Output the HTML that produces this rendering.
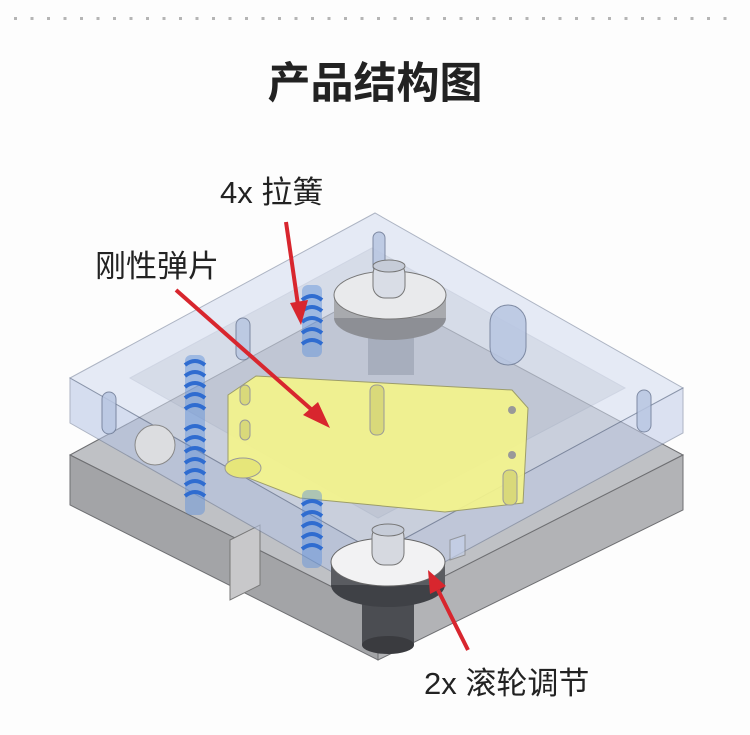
<!DOCTYPE html>
<html><head><meta charset="utf-8"><style>
html,body{margin:0;padding:0;background:#fdfdfd;}
body{width:750px;height:730px;overflow:hidden;position:relative;font-family:"Liberation Sans","Noto Sans CJK SC",sans-serif;}
</style></head><body>
<svg width="750" height="730" viewBox="0 0 750 730" xmlns="http://www.w3.org/2000/svg">
<defs>
<pattern id="dots" x="14" y="17" width="16.5" height="4" patternUnits="userSpaceOnUse"><rect width="3" height="3" fill="#b5b5b5"/></pattern>
</defs>
<rect x="12" y="17" width="720" height="4" fill="url(#dots)"/>
<text x="375" y="98" text-anchor="middle" font-family="Liberation Sans, Noto Sans CJK SC, sans-serif" font-size="43" font-weight="bold" fill="#222">产品结构图</text>

<!-- bottom plate -->
<polygon points="70,455 70,505 378,660 683,510 683,455 375,290" fill="#a9aaad"/>
<polygon points="70,455 375,290 683,455 378,610" fill="#bfc1c5" stroke="#6e6f72" stroke-width="1"/>
<polygon points="70,455 378,610 378,660 70,505" fill="#a3a4a7" stroke="#6e6f72" stroke-width="1"/>
<polygon points="378,610 683,455 683,510 378,660" fill="#b2b3b6" stroke="#6e6f72" stroke-width="1"/>
<polygon points="230,540 260,525 260,585 230,600" fill="#c8c8ca" stroke="#777" stroke-width="1"/>

<!-- dark roller cylinder bottom -->
<rect x="362" y="585" width="52" height="60" fill="#4b4d52"/>
<ellipse cx="388" cy="645" rx="26" ry="9" fill="#3a3b3f"/>
<rect x="368" y="335" width="46" height="40" fill="#6a6c72" opacity="0.8"/>

<!-- top plate (translucent) -->
<polygon points="70,378 375,213 683,388 378,553" fill="#d2dcf0" opacity="0.55" stroke="#6d7a95" stroke-width="1"/>
<polygon points="130,378 372,248 625,388 378,518" fill="#9fa6b6" opacity="0.2" stroke="#7a86a0" stroke-width="1"/>
<polygon points="70,378 378,553 378,598 70,423" fill="#b5c4e4" opacity="0.55" stroke="#6d7a95" stroke-width="1"/>
<polygon points="378,553 683,388 683,433 378,598" fill="#c0cbe8" opacity="0.55" stroke="#6d7a95" stroke-width="1"/>
<polygon points="450,540 465,535 465,555 450,560" fill="#c7d3ec" opacity="0.6" stroke="#777"/>

<!-- yellow plate -->
<polygon points="228,395 256,376 512,390 528,408 523,503 445,512 300,498 228,470" fill="#f4f48c" opacity="0.92" stroke="#9a9a60" stroke-width="1"/>
<rect x="370" y="385" width="14" height="50" rx="6" fill="#d9d97a" stroke="#999" stroke-width="1"/>
<rect x="240" y="385" width="10" height="20" rx="5" fill="#d9d97a" stroke="#999"/>
<rect x="240" y="420" width="10" height="20" rx="5" fill="#d9d97a" stroke="#999"/>
<ellipse cx="243" cy="468" rx="18" ry="10" fill="#e6e67a" stroke="#999"/>
<rect x="503" y="470" width="14" height="35" rx="6" fill="#d9d97a" stroke="#999"/>
<circle cx="512" cy="410" r="4" fill="#999"/><circle cx="512" cy="455" r="4" fill="#999"/>

<!-- pins -->
<g fill="#b8c6e2" stroke="#6d7a95" stroke-width="1" opacity="0.85">
<rect x="373" y="232" width="12" height="40" rx="6"/>
<rect x="236" y="318" width="14" height="42" rx="7"/>
<rect x="102" y="392" width="14" height="42" rx="7"/>
<rect x="637" y="390" width="14" height="42" rx="7"/>
<rect x="490" y="305" width="36" height="60" rx="18"/>
</g>

<!-- top roller -->
<ellipse cx="390" cy="318" rx="56" ry="22" fill="#8d8f95"/>
<rect x="334" y="295" width="112" height="23" fill="#a8aaae"/>
<ellipse cx="390" cy="295" rx="56" ry="24" fill="#e9eaec" stroke="#777" stroke-width="1"/>
<rect x="373" y="262" width="32" height="36" rx="12" fill="#d9dde6" stroke="#777"/>
<ellipse cx="389" cy="266" rx="16" ry="6" fill="#c6ccd8" stroke="#777"/>

<!-- bottom roller -->
<ellipse cx="388" cy="585" rx="57" ry="22" fill="#3f4146"/>
<rect x="331" y="562" width="114" height="23" fill="#5a5c61"/>
<ellipse cx="388" cy="562" rx="57" ry="24" fill="#f2f2f3" stroke="#666" stroke-width="1"/>
<rect x="372" y="525" width="32" height="40" rx="12" fill="#d6d9e0" stroke="#777"/>
<ellipse cx="388" cy="530" rx="16" ry="6" fill="#c6ccd8" stroke="#777"/>

<!-- ball -->
<circle cx="155" cy="445" r="20" fill="#dcdde0" stroke="#888"/>

<!-- springs -->
<g fill="#5b8fdc" opacity="0.45">
<rect x="185" y="355" width="20" height="160" rx="6"/><rect x="302" y="285" width="20" height="72" rx="6"/><rect x="302" y="490" width="20" height="78" rx="6"/>
</g>
<g fill="none" stroke="#2f6cd0" stroke-width="4">
<path d="M185,365 q10,-8 20,0 M185,376 q10,-8 20,0 M185,387 q10,-8 20,0 M185,398 q10,-8 20,0 M185,409 q10,-8 20,0 M185,430 q10,-8 20,0 M185,441 q10,-8 20,0 M185,452 q10,-8 20,0 M185,463 q10,-8 20,0 M185,474 q10,-8 20,0 M185,485 q10,-8 20,0 M185,496 q10,-8 20,0"/>
<path d="M302,300 q10,-8 20,0 M302,311 q10,-8 20,0 M302,322 q10,-8 20,0 M302,333 q10,-8 20,0 M302,344 q10,-8 20,0"/>
<path d="M302,505 q10,-8 20,0 M302,516 q10,-8 20,0 M302,527 q10,-8 20,0 M302,538 q10,-8 20,0 M302,549 q10,-8 20,0"/>
</g>

<!-- arrows -->
<g stroke="#d8262e" stroke-width="4" fill="#d8262e">
<line x1="286" y1="222" x2="298" y2="305"/>
<polygon points="290,303 308,300 301,325" stroke="none"/>
<line x1="176" y1="290" x2="312" y2="410"/>
<polygon points="303,415 318,402 330,428" stroke="none"/>
<line x1="468" y1="650" x2="438" y2="590"/>
<polygon points="430,594 446,586 428,570" stroke="none"/>
</g>

<g font-family="Liberation Sans, Noto Sans CJK SC, sans-serif" fill="#222" font-size="31">
<text x="220" y="203">4x 拉簧</text>
<text x="95" y="277">刚性弹片</text>
<text x="424" y="694">2x 滚轮调节</text>
</g>
</svg>
</body></html>
